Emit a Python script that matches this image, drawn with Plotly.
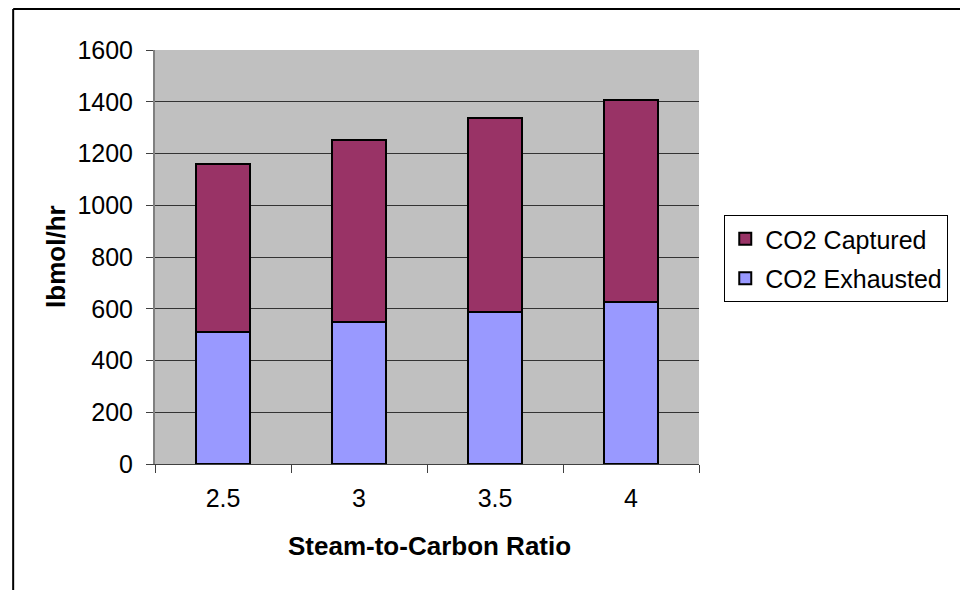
import plotly.graph_objects as go

# Steam-to-carbon ratio cases and CO2 flows (lbmol/hr)
ratios = ["2.5", "3", "3.5", "4"]
co2_exhausted = [510, 550, 589, 627]
co2_captured = [650, 702, 747, 780]

FONT = "Liberation Sans, Arial, sans-serif"

fig = go.Figure()
fig.add_trace(go.Bar(
    x=ratios, y=co2_exhausted, name="CO2 Exhausted",
    legendgroup="exh", legendrank=2,
    marker=dict(color="#9999FF", line=dict(color="black", width=2)),
))
fig.add_trace(go.Bar(
    x=ratios, y=co2_captured, name="CO2 Captured",
    legendgroup="cap", legendrank=1,
    marker=dict(color="#993366", line=dict(color="black", width=2)),
))

W, H = 960, 590
L, R, T, B = 155, 245, 50, 126
pw, ph = W - L - R, H - T - B


def px_x(p):
    return (p - L) / pw


def px_y(p):
    return (H - B - p) / ph


fig.update_layout(
    width=W, height=H,
    margin=dict(l=L, r=R, t=T, b=B, pad=0),
    barmode="stack",
    bargap=0.6,
    paper_bgcolor="white",
    plot_bgcolor="#C0C0C0",
    font=dict(family=FONT, size=25, color="black"),
    showlegend=True,
    legend=dict(
        traceorder="grouped",
        tracegroupgap=4,
        x=px_x(741), y=px_y(215), xanchor="left", yanchor="top",
        bordercolor="black", borderwidth=1, bgcolor="white",
        font=dict(family=FONT, size=25, color="black"),
    ),
    xaxis=dict(
        type="category",
        showgrid=False,
        showline=True, linecolor="#404040", linewidth=1,
        ticks="outside", tickson="boundaries", ticklen=8,
        tickcolor="#404040",
        ticklabelstandoff=12,
    ),
    yaxis=dict(
        range=[0, 1600], dtick=200,
        showgrid=True, gridcolor="#333333", gridwidth=1,
        showline=True, linecolor="#808080", linewidth=2,
        ticks="outside", ticklen=7, tickcolor="#404040",
        ticklabelstandoff=8,
        zeroline=False,
    ),
    annotations=[
        dict(text="<b>Steam-to-Carbon Ratio</b>", xref="paper", yref="paper",
             x=px_x(438), y=px_y(546), xanchor="center", yanchor="middle",
             showarrow=False, font=dict(family=FONT, size=26)),
        dict(text="<b>lbmol/hr</b>", xref="paper", yref="paper",
             x=px_x(53), y=px_y(256), xanchor="center", yanchor="middle",
             textangle=-90, showarrow=False, font=dict(family=FONT, size=26)),
    ],
    shapes=[
        # outer chart frame (left and top edges fall inside the page)
        dict(type="line", xref="paper", yref="paper",
             x0=px_x(9), y0=px_y(9), x1=px_x(1000), y1=px_y(9),
             line=dict(color="black", width=2), layer="above"),
        dict(type="line", xref="paper", yref="paper",
             x0=px_x(9), y0=px_y(9), x1=px_x(9), y1=px_y(620),
             line=dict(color="black", width=2), layer="above"),
    ],
)

fig.write_html("out.html")
